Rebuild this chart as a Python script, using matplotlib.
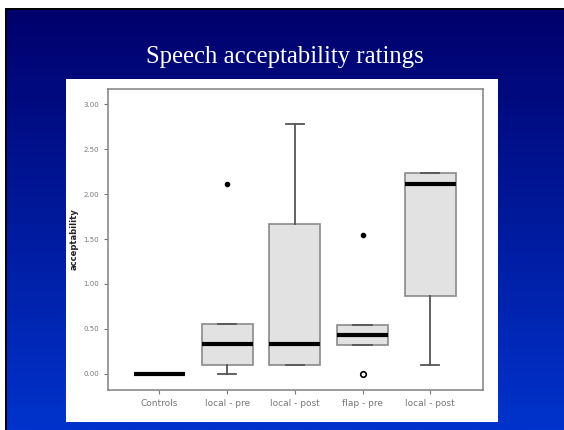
import numpy as np
import matplotlib
matplotlib.use("Agg")
import matplotlib.pyplot as plt
from matplotlib.patches import Rectangle

# box statistics per group
groups = ["Controls", "local - pre", "local - post", "flap - pre", "local - post"]
medians = [0.00, 0.33, 0.33, 0.43, 2.11]
q1 = [0.00, 0.10, 0.10, 0.32, 0.87]
q3 = [0.00, 0.56, 1.67, 0.54, 2.23]
whisker_lo = [0.00, 0.00, 0.10, 0.32, 0.10]
whisker_hi = [0.00, 0.56, 2.78, 0.54, 2.23]
outliers_filled = [[], [2.11], [], [1.55], []]
outliers_open = [[], [], [], [0.00], []]
yticks = [0.0, 0.5, 1.0, 1.5, 2.0, 2.5, 3.0]

W, H = 564, 430
fig = plt.figure(figsize=(W / 100, H / 100), dpi=100)
fig.patch.set_facecolor("white")

# slide background: navy -> blue gradient with a black edge top/left
bg = fig.add_axes([0, 0, 1, 1])
grad = np.linspace(0, 1, 256).reshape(-1, 1)
top = np.array([0.0, 0.0, 0.42])
bot = np.array([0.0, 0.20, 0.80])
img = top + (bot - top) * grad[:, :, None]
bg.set_xlim(0, W)
bg.set_ylim(H, 0)
bg.imshow(img, extent=[5, W, H, 8], aspect="auto", origin="upper")
bg.add_patch(Rectangle((5, 8), 2, H - 8, facecolor="black", edgecolor="none"))
bg.add_patch(Rectangle((5, 8), W - 5, 2, facecolor="black", edgecolor="none"))
bg.add_patch(Rectangle((66, 79), 498 - 66, 422 - 79,
                       facecolor="white", edgecolor="none"))
bg.text(W / 2 + 3, 57, "Speech acceptability ratings", color="white",
        fontsize=17.8, family="Liberation Serif", ha="center", va="center")
bg.set_xlim(0, W)
bg.set_ylim(H, 0)
bg.axis("off")

ax = fig.add_axes([108 / W, 1 - 390 / H, (483 - 108) / W, (390 - 89) / H])
stats = []
for i in range(len(groups)):
    stats.append(dict(med=medians[i], q1=q1[i], q3=q3[i],
                      whislo=whisker_lo[i], whishi=whisker_hi[i], fliers=[]))
pos = np.arange(1, len(groups) + 1)
ax.bxp(stats, positions=pos, widths=0.75, capwidths=0.27, patch_artist=True,
       showfliers=False,
       boxprops=dict(facecolor="#e2e2e2", edgecolor="#8a8a8a", lw=1.2),
       medianprops=dict(color="black", lw=3),
       whiskerprops=dict(color="#555555", lw=1.3),
       capprops=dict(color="#555555", lw=1.3))

for p, vals in zip(pos, outliers_filled):
    ax.plot([p] * len(vals), vals, "o", color="black", ms=3)
for p, vals in zip(pos, outliers_open):
    ax.plot([p] * len(vals), vals, "o", mfc="none", mec="black", ms=4, mew=1.2)

ax.set_xlim(0.24, 5.78)
ax.set_ylim(-0.18, 3.17)
ax.set_yticks(yticks)
ax.set_yticklabels([f"{v:.2f}" for v in yticks])
ax.set_xticks(pos)
ax.set_xticklabels(groups)
ax.tick_params(axis="both", labelsize=5, colors="#777777", length=3, width=0.8)
ax.tick_params(axis="x", labelsize=6.5)
for s in ax.spines.values():
    s.set_color("#8a8a8a")
    s.set_linewidth(1.2)
ax.set_ylabel("acceptability", fontsize=6, fontweight="bold", color="#222222",
              labelpad=3)

fig.savefig("out.png", dpi=100)
